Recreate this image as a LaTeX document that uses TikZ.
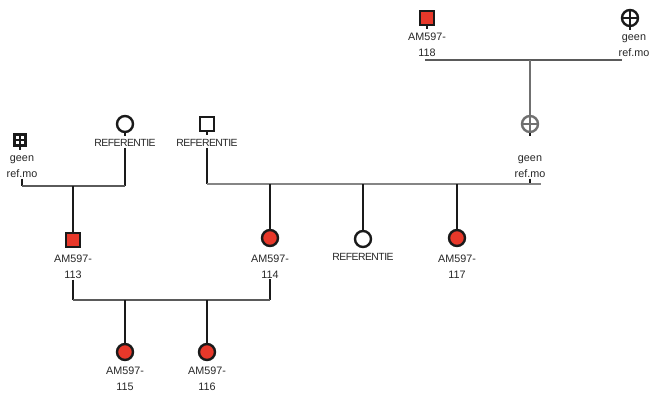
\documentclass[tikz,border=0pt]{standalone}
\usepackage{fontspec}
\setmainfont{Liberation Sans}
\newfontfamily\reffont[LetterSpace=-5]{Liberation Sans}
\definecolor{aff}{HTML}{E8382A}
\definecolor{ln}{HTML}{1A1A1A}
\definecolor{hl}{HTML}{5A5A5A}
\definecolor{gp}{HTML}{707070}
\begin{document}
\begin{tikzpicture}[x=1pt,y=-1pt,
  fem/.style={circle,draw=ln,line width=2.4pt,minimum size=16pt,inner sep=0pt},
  mal/.style={rectangle,draw=ln,line width=2.4pt,minimum size=14pt,inner sep=0pt},
  affd/.style={fill=aff},
  lab/.style={anchor=north,align=center,font=\fontsize{10.8}{16}\selectfont,inner sep=0pt,text=black!85},
  rlab/.style={lab,font=\fontsize{10.4}{16}\selectfont\reffont},
  vl/.style={draw=ln,line width=2pt},
  hline/.style={draw=hl,line width=2pt},
  stub/.style={draw=ln,line width=1.6pt}]
\useasboundingbox (0,0) rectangle (649,392);
% top generation
\node[mal,affd] (e) at (427,18) {};
\node[lab] (el) at (427,32.5) {AM597-\\118};
\node[fem] (f) at (630,18) {};
\draw[ln,line width=2.2pt] (f.north) -- (f.south) (f.west) -- (f.east);
\node[lab] (fl) at (634,34.4) {geen\\ref.mo};
\coordinate (u3l) at (425,60);
\coordinate (u3r) at (622,60);
\coordinate (u3m) at (530,60);
\draw[hline] (u3l) -- (u3r);
% second generation
\node[mal,minimum size=11pt] (a) at (20,140) {};
\draw[ln,line width=2pt] (a.north) -- (a.south) (a.west) -- (a.east);
\node[lab] (al) at (22,155.4) {geen\\ref.mo};
\node[fem] (b) at (125,124) {};
\node[rlab] (bl) at (125,139.4) {REFERENTIE};
\node[mal] (c) at (207,124) {};
\node[rlab] (cl) at (207,139.4) {REFERENTIE};
\node[fem,draw=gp] (d) at (530,124) {};
\draw[gp,line width=2.2pt] (d.north) -- (d.south) (d.west) -- (d.east);
\node[lab] (dl) at (530,155.4) {geen\\ref.mo};
\draw[vl,draw=gp] (u3m) -- (d.north);
\foreach \s in {e,f,a,b,c,d}{\draw[stub] (\s.south) -- ++(0,3);}
% unions gen 2
\coordinate (u1l) at (22,186);
\coordinate (u1r) at (125,186);
\coordinate (u1m) at (73,186);
\coordinate (u2l) at (207,184);
\coordinate (u2r) at (541,184);
\draw[vl] (al.south) ++(0,1) -- (u1l);
\draw[vl] (bl.south) ++(0,1) -- (u1r);
\draw[hline] (u1l) -- (u1r);
\draw[vl] (cl.south) ++(0,1) -- (u2l);
\draw[vl] (dl.south) ++(0,1) -- (530,184);
\draw[hline,draw=gp!85] (u2l) -- (u2r);
% third generation
\node[mal,affd] (g) at (73,240) {};
\node[lab] (gl) at (73,254.5) {AM597-\\113};
\node[fem,affd] (h) at (270,238) {};
\node[lab] (hl) at (270,254.5) {AM597-\\114};
\node[fem] (i) at (363,239) {};
\node[rlab] (il) at (363,253.4) {REFERENTIE};
\node[fem,affd] (j) at (457,238) {};
\node[lab] (jl) at (457,254.5) {AM597-\\117};
\draw[vl] (u1m) -- (g.north);
\draw[vl] (270,184) -- (h.north);
\draw[vl] (363,184) -- (i.north);
\draw[vl] (457,184) -- (j.north);
% union gen 3
\coordinate (u4l) at (73,300);
\coordinate (u4r) at (270,300);
\draw[vl] (gl.south) ++(0,1) -- (u4l);
\draw[vl] (hl.south) ++(0,1) -- (u4r);
\draw[hline] (u4l) -- (u4r);
% fourth generation
\node[fem,affd] (k) at (125,352) {};
\node[lab] (kl) at (125,366.4) {AM597-\\115};
\node[fem,affd] (l) at (207,352) {};
\node[lab] (ll) at (207,366.4) {AM597-\\116};
\draw[vl] (125,300) -- (k.north);
\draw[vl] (207,300) -- (l.north);
\end{tikzpicture}
\end{document}
